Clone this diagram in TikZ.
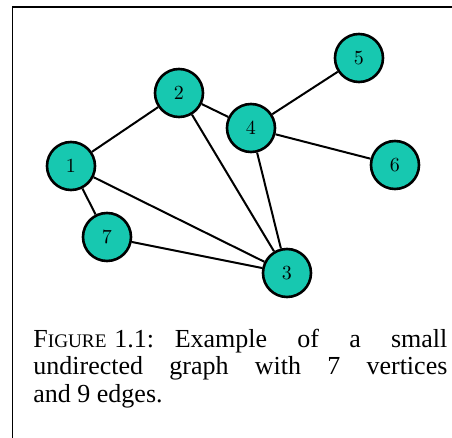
\documentclass[tikz,border=0pt]{standalone}
\usepackage{fontspec}
\newfontfamily\captionfont{Liberation Serif}
\usepackage{xcolor}
\usepackage{tikz}
\usetikzlibrary{positioning}
\definecolor{vertexteal}{HTML}{17C8B0}

\begin{document}
\begin{tikzpicture}[x=0.5pt, y=-0.5pt,
  vertex/.style={circle, draw=black, fill=vertexteal, line width=1.3pt,
                 minimum size=24pt, inner sep=0pt, font=\fontsize{10}{12}\selectfont},
  edge/.style={line width=1pt}]
  \useasboundingbox (0,0) rectangle (452,438);
  % frame
  \draw[line width=0.6pt] (12.5,438) -- (12.5,7) -- (452,7);

  % vertices
  \node[vertex] (v1) at (71,166) {1};
  \node[vertex] (v2) at (179,93) {2};
  \node[vertex] (v3) at (287,273) {3};
  \node[vertex] (v4) at (251,128) {4};
  \node[vertex] (v5) at (359,58) {5};
  \node[vertex] (v6) at (395,165) {6};
  \node[vertex] (v7) at (107,237) {7};

  % edges
  \foreach \a/\b in {v1/v2, v1/v3, v1/v7, v2/v4, v2/v3, v4/v3, v4/v5, v4/v6, v7/v3}
    \draw[edge] (\a) -- (\b);

  \node[anchor=north west, inner sep=0pt, text width=207pt, align=justify,
        font=\captionfont\fontsize{13}{13.6}\selectfont] (caption) at (33,329)
    {F{\fontsize{9.6}{10}\selectfont IGURE}\hspace{0.3em}1.1:\hspace{0.8em}Example of a small\linebreak
     undirected graph with 7 vertices\linebreak and 9 edges.};
\end{tikzpicture}
\end{document}
